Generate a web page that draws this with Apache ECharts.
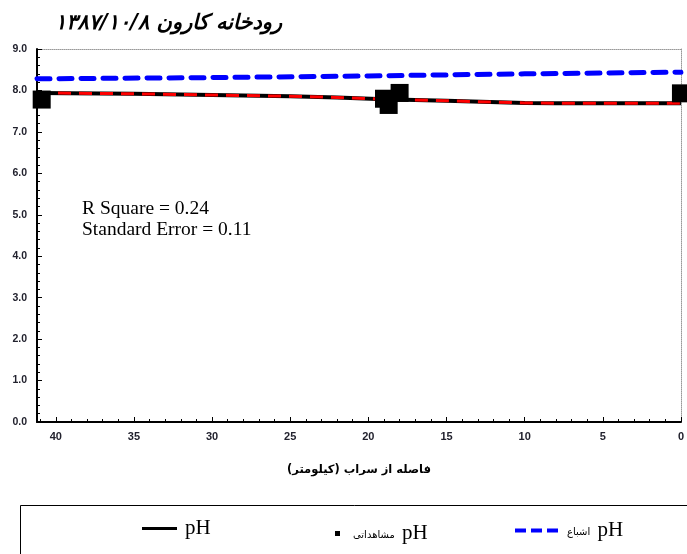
<!DOCTYPE html>
<html>
<head>
<meta charset="utf-8">
<script src="https://cdn.jsdelivr.net/npm/echarts@6/dist/echarts.min.js"></script>
<style>
html,body{margin:0;padding:0;background:#fff;}
#chart{width:687px;height:554px;}
</style>
</head>
<body>
<div id="chart"></div>
<script>
// ---- data ----
const titleText = 'رودخانه کارون ۱۳۸۷/۱۰/۸';
const xAxisName = 'فاصله از سراب (کیلومتر)';
const statLines = ['R Square = 0.24', 'Standard Error = 0.11'];

// model pH line (black, with red dashed overlay)
const modelKm = [41.2, 35, 30, 25, 22, 19, 15, 10, 8, 5, 0];
const modelPH = [7.94, 7.92, 7.89, 7.86, 7.83, 7.79, 7.75, 7.70, 7.69, 7.69, 7.69];

// saturation pH (blue dashed)
const satKm = [41.2, 30, 20, 10, 0];
const satPH = [8.28, 8.31, 8.35, 8.40, 8.44];

// observed pH (squares)
const obsKm = [40.9, 19.0, 18.7, 18.0, 0];
const obsPH = [7.78, 7.80, 7.65, 7.94, 7.93];

const xMin = 0, xMax = 41.2, xInterval = 5;
const yMin = 0, yMax = 9, yInterval = 1;

const nameModel = 'pH';
const nameModelFit = 'pH (fit)';
const nameObs = 'pH مشاهداتی';
const nameSat = 'pH اشباع';
const obsWord = 'مشاهداتی';
const satWord = 'اشباع';

const pairs = (xs, ys) => xs.map((x, i) => [x, ys[i]]);

const narrow = "'Liberation Sans Narrow','Arial Narrow','Liberation Sans',sans-serif";
const serif = "'Liberation Serif','Times New Roman',serif";
const persian = "'DejaVu Sans',sans-serif";
const labelColor = '#22222e';

const chart = echarts.init(document.getElementById('chart'), null, {renderer: 'canvas'});

const legendRich = {
  f: {fontFamily: persian, fontSize: 10, color: '#000', padding: [3, 4, 0, 0]},
  p: {fontFamily: serif, fontSize: 21, color: '#000'}
};

chart.setOption({
  animation: false,
  backgroundColor: '#fff',
  title: {
    text: titleText,
    left: 50, top: 8,
    textStyle: {fontFamily: persian, fontSize: 21, fontWeight: 'bold', fontStyle: 'italic', color: '#000'}
  },
  grid: {left: 37, right: 1, top: 49, bottom: 132, containLabel: false},
  xAxis: [{
    type: 'value', min: xMin, max: xMax, interval: xInterval, inverse: true,
    name: xAxisName, nameLocation: 'middle', nameGap: 42,
    nameTextStyle: {fontFamily: persian, fontSize: 11.5, fontWeight: 'bold', color: '#000'},
    axisLine: {show: true, onZero: false, lineStyle: {color: '#000', width: 2}},
    axisTick: {show: true, inside: true, length: 5, lineStyle: {color: '#000', width: 1}},
    minorTick: {show: true, splitNumber: 5, length: 3, lineStyle: {color: '#000'}},
    axisLabel: {showMaxLabel: false, margin: 9, fontFamily: narrow, fontSize: 11, fontWeight: 'bold', color: labelColor},
    splitLine: {show: false}
  }, {
    type: 'value', min: xMin, max: xMax, interval: xInterval, inverse: true, position: 'top',
    axisLine: {show: true, onZero: false, lineStyle: {color: '#999', width: 1, type: 'dotted'}},
    axisTick: {show: false}, axisLabel: {show: false}, splitLine: {show: false}
  }],
  yAxis: [{
    type: 'value', min: yMin, max: yMax, interval: yInterval,
    axisLine: {show: true, onZero: false, lineStyle: {color: '#000', width: 2}},
    axisTick: {show: true, inside: true, length: 5, lineStyle: {color: '#000', width: 1}},
    minorTick: {show: true, splitNumber: 5, length: 3, lineStyle: {color: '#000'}},
    axisLabel: {margin: 10, fontFamily: narrow, fontSize: 10.5, fontWeight: 'bold', color: labelColor,
      formatter: v => v.toFixed(1)},
    splitLine: {show: false}
  }, {
    type: 'value', min: yMin, max: yMax, interval: yInterval, position: 'right',
    axisLine: {show: true, onZero: false, lineStyle: {color: '#999', width: 1, type: 'dotted'}},
    axisTick: {show: false}, axisLabel: {show: false}, splitLine: {show: false}
  }],
  legend: [{
    data: [{name: nameModel, icon: 'rect'}],
    left: 142, top: 518, padding: 0, itemWidth: 35, itemHeight: 3, itemGap: 0,
    textStyle: {fontFamily: serif, fontSize: 21, color: '#000', padding: [0, 0, 7, 3]}
  }, {
    data: [{name: nameObs, icon: 'rect'}],
    left: 335, top: 523, padding: 0, itemWidth: 5, itemHeight: 5, itemGap: 0,
    formatter: () => '{f|' + obsWord + '} {p|pH}',
    textStyle: {rich: legendRich, padding: [0, 0, 0, 8]}
  }, {
    data: [{name: nameSat, icon: 'path://M0,0h11v4h-11zM16,0h11v4h-11zM32,0h11v4h-11z'}],
    left: 515, top: 520, padding: 0, itemWidth: 43, itemHeight: 4, itemGap: 0,
    formatter: () => '{f|' + satWord + '} {p|pH}',
    textStyle: {rich: legendRich, padding: [0, 0, 0, 4]}
  }],
  graphic: [
    {type: 'rect', left: 18, top: 503, shape: {width: 700, height: 60},
      style: {fill: 'none', stroke: '#000', lineWidth: 1}, z: -1},
    {type: 'text', left: 82, top: 198,
      style: {text: statLines.join('\n'), font: '19.5px ' + serif, fill: '#000', lineHeight: 21}}
  ],
  series: [{
    name: nameModel, type: 'line', data: pairs(modelKm, modelPH),
    symbol: 'none', smooth: false, color: '#000',
    lineStyle: {color: '#000', width: 4}, z: 2
  }, {
    name: nameModelFit, type: 'line', data: pairs(modelKm, modelPH),
    symbol: 'none', color: '#ff0000',
    lineStyle: {color: '#ff0000', width: 3, type: [13, 8]}, z: 3
  }, {
    name: nameSat, type: 'line', data: pairs(satKm, satPH),
    symbol: 'none', color: '#0000ff',
    lineStyle: {color: '#0000ff', width: 5, type: [13, 9], cap: 'round'}, z: 3
  }, {
    name: nameObs, type: 'scatter', data: pairs(obsKm, obsPH),
    symbol: 'rect', symbolSize: 18, clip: false, color: '#000',
    itemStyle: {color: '#000', opacity: 1}, z: 5
  }]
});
</script>
</body>
</html>
